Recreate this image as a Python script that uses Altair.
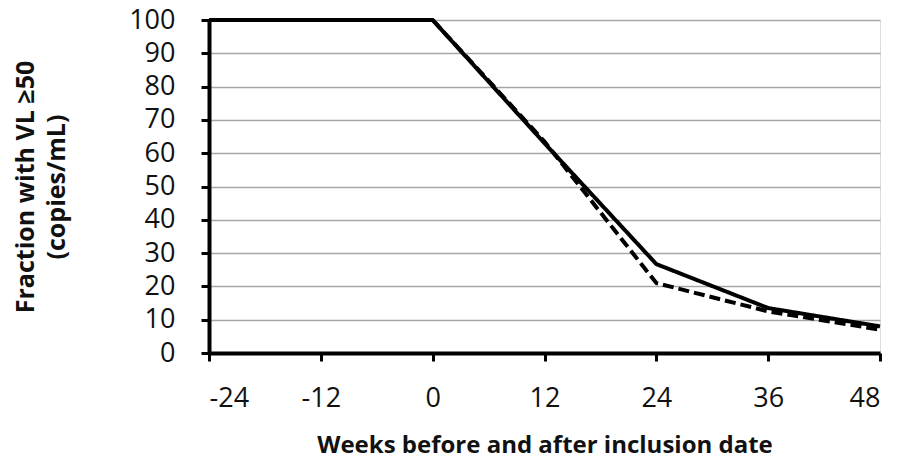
import altair as alt
import pandas as pd

weeks = [-24, -12, 0, 12, 24, 36, 48]
series_a = [100, 100, 100, 63, 26.7, 13.5, 8]
series_b = [100, 100, 100, 63.5, 21, 12.5, 7]
x_ticks = [-24, -12, 0, 12, 24, 36, 48]
y_ticks = [0, 10, 20, 30, 40, 50, 60, 70, 80, 90, 100]

rows = []
for w, a, b in zip(weeks, series_a, series_b):
    rows.append({"week": w, "value": a, "series": "A"})
    rows.append({"week": w, "value": b, "series": "B"})
df = pd.DataFrame(rows)

FONT = "Open Sans"

x = alt.X(
    "week:Q",
    scale=alt.Scale(domain=[-24, 48], nice=False, zero=False),
    axis=alt.Axis(
        values=x_ticks,
        labelExpr="toString(datum.value)",
        title="Weeks before and after inclusion date",
        grid=False,
        domainColor="black",
        domainWidth=4,
        tickColor="black",
        tickWidth=3,
        tickSize=8,
        labelFontSize=27,
        labelPadding=24,
        labelColor="#111",
        titleFontSize=24,
        titleFontWeight="bold",
        titlePadding=22,
        titleColor="#111",
        labelFont=FONT,
        titleFont=FONT,
    ),
)
y = alt.Y(
    "value:Q",
    scale=alt.Scale(domain=[0, 100], nice=False),
    axis=alt.Axis(
        values=y_ticks,
        title=["Fraction with VL ≥50", "(copies/mL)"],
        grid=True,
        gridColor="#a6a6a6",
        gridWidth=1.5,
        domainColor="black",
        domainWidth=4,
        tickColor="black",
        tickWidth=3,
        tickSize=8,
        labelFontSize=27,
        labelPadding=26,
        labelColor="#111",
        titleFontSize=25,
        titleFontWeight="bold",
        titlePadding=59,
        titleLineHeight=31,
        titleColor="#111",
        labelFont=FONT,
        titleFont=FONT,
    ),
)

chart = (
    alt.Chart(df)
    .mark_line(color="black", strokeWidth=4)
    .encode(
        x=x,
        y=y,
        strokeDash=alt.StrokeDash(
            "series:N",
            scale=alt.Scale(domain=["A", "B"], range=[[1, 0], [11, 5]]),
            legend=None,
        ),
        order=alt.Order("week:Q"),
    )
    .properties(
        width=671,
        height=333,
        autosize=alt.AutoSizeParams(type="none"),
        padding={"left": 201, "top": 12, "right": 12, "bottom": 105},
    )
    .configure_view(stroke=None)
    .configure(background="white")
)

chart.save("out.html", embed_options={"renderer": "svg", "actions": False})
